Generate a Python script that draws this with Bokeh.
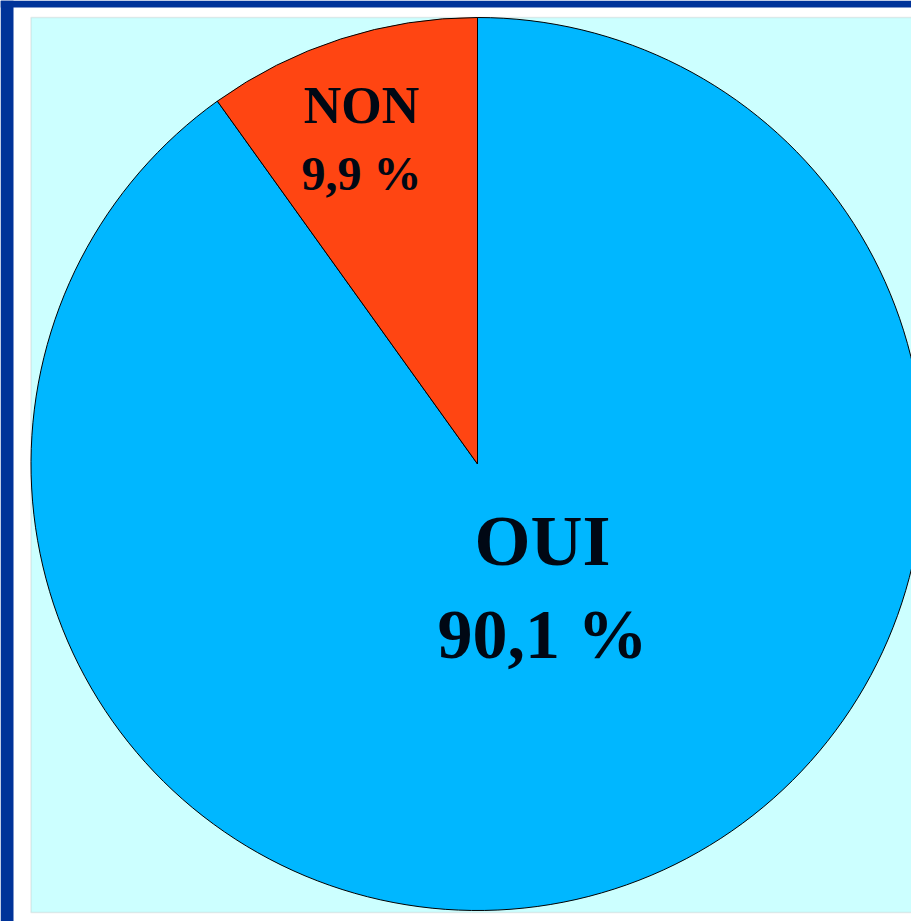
import numpy as np
from bokeh.plotting import figure
from bokeh.models import Range1d, BoxAnnotation, ColumnDataSource
from bokeh.core.properties import value
from bokeh.embed import file_html
from bokeh.resources import INLINE

# ---- data ----
categories = ["OUI", "NON"]
percents = [90.1, 9.9]
slice_colors = ["#00B7FF", "#FF4512"]

W, H = 911, 921

p = figure(width=W, height=H, output_backend="svg", toolbar_location=None,
           x_range=Range1d(0, W), y_range=Range1d(0, H),
           min_border=0, outline_line_color=None,
           background_fill_color="white", border_fill_color="white")
p.axis.visible = False
p.grid.visible = False
p.styles = {"position": "absolute", "left": "0px", "top": "0px"}

def Y(py):
    return H - py

# frame decoration
p.add_layout(BoxAnnotation(left=0, right=13, bottom=Y(H), top=Y(0), level="underlay",
                           fill_color="#003399", fill_alpha=1, line_alpha=0))
p.add_layout(BoxAnnotation(left=0, right=W, bottom=Y(7), top=Y(0), level="underlay",
                           fill_color="#003399", fill_alpha=1, line_alpha=0))
p.add_layout(BoxAnnotation(left=30.5, right=W + 5, bottom=Y(912), top=Y(17), level="underlay",
                           fill_color="#CCFFFF", fill_alpha=1,
                           line_color="#BBBBBB", line_width=1.5))

# pie
cx, cy, r = 477, Y(463.5), 446.5
vals = np.array(percents)
cum = np.cumsum(vals)
start = np.radians(90 - (cum - vals) * 3.6)
end = np.radians(90 - cum * 3.6)
src = ColumnDataSource(dict(cat=categories, start=start, end=end, color=slice_colors))
p.wedge(x=cx, y=cy, radius=r, start_angle="start", end_angle="end",
        direction="clock", fill_color="color", line_color="black",
        line_width=1, source=src)

# labels
def fmt(v):
    return f"{v:.1f}".replace(".", ",") + " %"

# x centre, baseline of name, baseline of value, name size, value size
label_pos = {"OUI": (542, 568, 659, 72, 70), "NON": (361, 125, 190, 52, 48)}
for c, v in zip(categories, percents):
    x, b1, b2, fs1, fs2 = label_pos[c]
    p.text(x=[x], y=[Y(b1 - 0.38 * fs1)], text=[c], text_font=value("Liberation Serif"),
           text_font_style="bold", text_font_size=f"{fs1}px", text_align="center",
           text_baseline="alphabetic", text_color="#000814")
    p.text(x=[x], y=[Y(b2 - 0.36 * fs2)], text=[fmt(v)], text_font=value("Liberation Serif"),
           text_font_style="bold", text_font_size=f"{fs2}px", text_align="center",
           text_baseline="alphabetic", text_color="#000814")

open("out.html", "w").write(file_html(p, INLINE))
